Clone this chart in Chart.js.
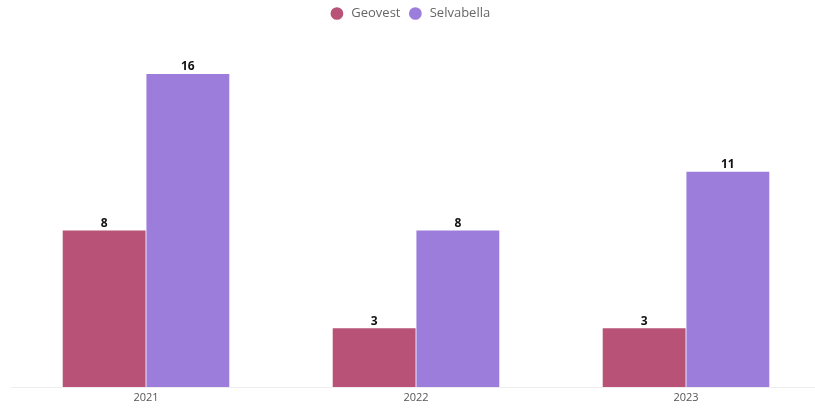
<!DOCTYPE html>
<html>
<head>
<meta charset="utf-8">
<script src="https://cdn.jsdelivr.net/npm/chart.js@4"></script>
<style>
  html, body { margin: 0; padding: 0; background: #fff; overflow: hidden; }
  #wrap { width: 815px; height: 410px; position: relative; }
</style>
</head>
<body>
<div id="wrap"><canvas id="myChart"></canvas></div>
<script>
var years = ['2021', '2022', '2023'];
var geovest = [8, 3, 3];
var selvabella = [16, 8, 11];

// draws the value above each bar
var valueLabels = {
    id: 'valueLabels',
    afterDatasetsDraw: function (chart) {
        var ctx = chart.ctx;
        ctx.save();
        ctx.font = 'bold 12px "Open Sans", sans-serif';
        ctx.fillStyle = '#111';
        ctx.textAlign = 'center';
        ctx.textBaseline = 'bottom';
        chart.data.datasets.forEach(function (ds, i) {
            chart.getDatasetMeta(i).data.forEach(function (bar, j) {
                ctx.fillText(ds.data[j], bar.x, bar.y - 1);
            });
        });
        ctx.restore();
    }
};

// the original x axis runs a little past the right edge of the picture
var widenX = {
    id: 'widenX',
    afterLayout: function (chart) {
        var x = chart.scales.x;
        x.right += 6;
        x.width += 6;
        x.configure();
    }
};

var ctx = document.getElementById('myChart').getContext('2d');
var chart = new Chart(ctx, {
    type: 'bar',
    data: {
        labels: years,
        datasets: [{
            label: 'Geovest',
            backgroundColor: '#B85277',
            data: geovest
        }, {
            label: 'Selvabella',
            backgroundColor: '#9C7DDB',
            data: selvabella
        }]
    },
    options: {
        responsive: true,
        maintainAspectRatio: false,
        animation: false,
        layout: { padding: { left: 11, right: 0, top: 0, bottom: 2 } },
        categoryPercentage: 0.62,
        barPercentage: 0.99,
        plugins: {
            legend: {
                position: 'top',
                labels: {
                    usePointStyle: true,
                    pointStyle: 'circle',
                    boxWidth: 9,
                    boxHeight: 9,
                    color: '#666',
                    font: { family: '"Open Sans", sans-serif', size: 13 },
                    padding: 7,
                    generateLabels: function (chart) {
                        var items = Chart.defaults.plugins.legend.labels.generateLabels(chart);
                        items.forEach(function (it) { it.text = ' ' + it.text + ' '; });
                        return items;
                    }
                }
            },
            tooltip: { enabled: false }
        },
        scales: {
            x: {
                grid: { display: false, drawTicks: false },
                border: { color: '#eee' },
                ticks: { color: '#555', padding: 5, font: { family: '"Open Sans", sans-serif', size: 11, lineHeight: 1 } }
            },
            y: {
                display: false,
                min: 0,
                max: 18.25
            }
        }
    },
    plugins: [valueLabels, widenX]
});
</script>
</body>
</html>
